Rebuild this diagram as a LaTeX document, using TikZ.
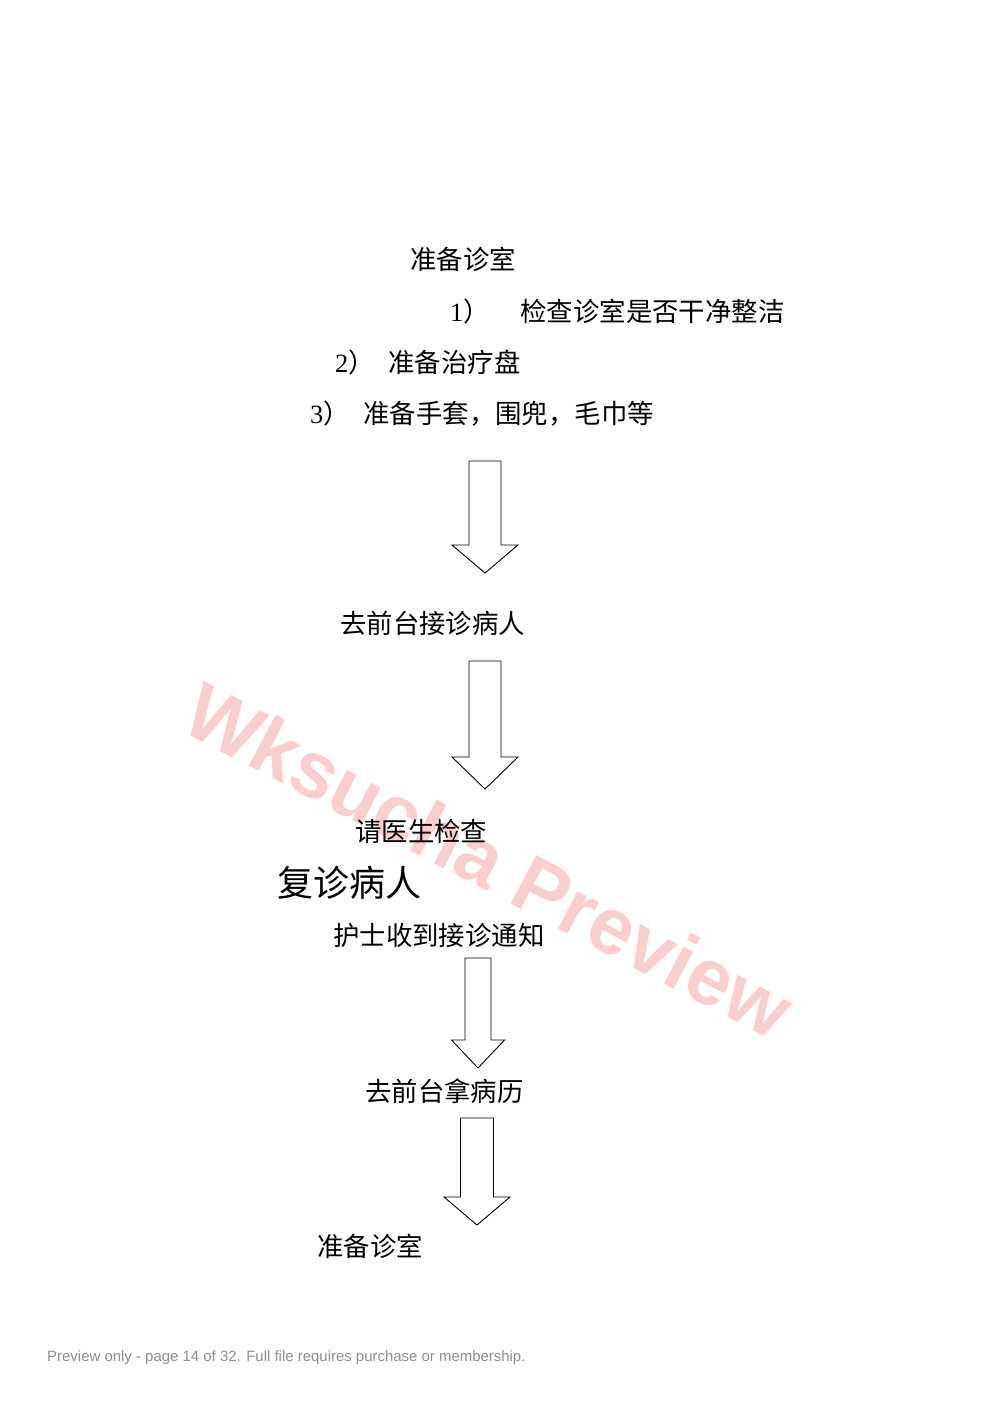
\documentclass[tikz,border=0pt]{standalone}
\usepackage{fontspec}
\setmainfont{Liberation Serif}
\setsansfont{Liberation Sans}
\newfontfamily\cjk{Noto Sans CJK SC}
\definecolor{markpink}{RGB}{249,206,206}
\definecolor{footgray}{RGB}{140,142,150}

\tikzset{
  step text/.style={anchor=west, inner sep=0, font=\cjk\fontsize{26.4}{30}\selectfont},
  block arrow/.style={draw=black, fill=white, line width=0.9pt, line join=miter}
}

\begin{document}
\begin{tikzpicture}[x=1pt, y=-1pt]

  \useasboundingbox (0, 0) rectangle (993, 1404);

  \node (watermark) at (489, 860) [rotate=-27.7, text=markpink, font=\sffamily\bfseries\fontsize{79.5}{82}\selectfont] {Wksucha Preview};

  \node (prep) at (410, 259) [step text] {准备诊室};

  \node (item-one) at (450, 311) [step text] {{\rmfamily 1}）\hspace{30.6pt}检查诊室是否干净整洁};

  \node (item-two) at (335, 362) [step text] {{\rmfamily 2}）\hspace{13.6pt}准备治疗盘};

  \node (item-three) at (310, 414) [step text] {{\rmfamily 3}）\hspace{13.6pt}准备手套，围兜，毛巾等};

  \node (reception) at (340, 623) [step text] {去前台接诊病人};

  \node (doctor) at (355, 831) [step text] {请医生检查};

  \node (revisit) at (277, 883) [step text, font=\cjk\fontsize{36}{40}\selectfont] {复诊病人};

  \node (notice) at (333, 935) [step text] {护士收到接诊通知};

  \node (records) at (365, 1091) [step text] {去前台拿病历};

  \node (prep-again) at (317, 1246) [step text] {准备诊室};

  \coordinate (arrow-one) at (485, 461);
  \coordinate (arrow-two) at (485, 661);
  \coordinate (arrow-three) at (478, 958);
  \coordinate (arrow-four) at (477, 1118);

  \draw[block arrow] (arrow-one) ++(-16, 0) -- ++(0, 84) -- ++(-17, 0) -- ++(33, 28) -- ++(33, -28) -- ++(-17, 0) -- ++(0, -84) -- cycle;

  \draw[block arrow] (arrow-two) ++(-16, 0) -- ++(0, 96) -- ++(-17, 0) -- ++(33, 32) -- ++(33, -32) -- ++(-17, 0) -- ++(0, -96) -- cycle;

  \draw[block arrow] (arrow-three) ++(-13, 0) -- ++(0, 82) -- ++(-13.5, 0) -- ++(26.5, 28) -- ++(26.5, -28) -- ++(-13.5, 0) -- ++(0, -82) -- cycle;

  \draw[block arrow] (arrow-four) ++(-16.5, 0) -- ++(0, 79) -- ++(-16.5, 0) -- ++(33, 28) -- ++(33, -28) -- ++(-16.5, 0) -- ++(0, -79) -- cycle;

  \node (footer) at (47, 1358) [anchor=west, inner sep=0, text=footgray, font=\sffamily\fontsize{14.95}{17}\selectfont] {Preview only - page 14 of 32. Full file requires purchase or membership.};

\end{tikzpicture}
\end{document}
